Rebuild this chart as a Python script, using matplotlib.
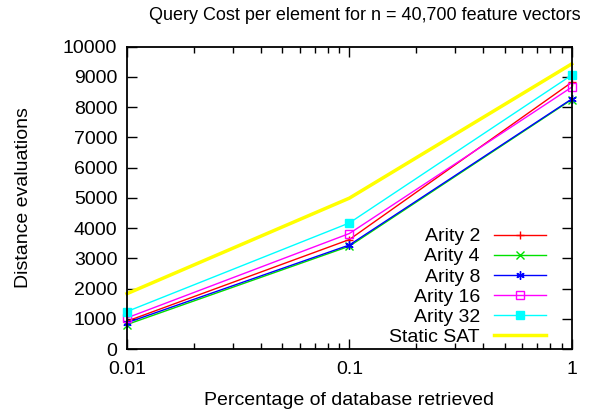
import matplotlib
matplotlib.use("Agg")
import matplotlib.pyplot as plt
from matplotlib.ticker import FixedLocator, LogLocator, NullFormatter

plt.rcParams['font.family'] = ['Liberation Sans', 'DejaVu Sans']

fraction = [0.01, 0.1, 1]
arity2 = [920, 3620, 8820]
arity4 = [810, 3400, 8250]
arity8 = [870, 3440, 8270]
arity16 = [1030, 3820, 8660]
arity32 = [1240, 4170, 9060]
static_sat = [1830, 4990, 9430]

series = [
    ("Arity 2", arity2, "#ff0000", "+", "#ff0000"),
    ("Arity 4", arity4, "#00e000", "x", "#00e000"),
    ("Arity 8", arity8, "#0000ff", (6, 2, 0), "#0000ff"),
    ("Arity 16", arity16, "#ff00ff", "s", "none"),
    ("Arity 32", arity32, "#00ffff", "s", "#00ffff"),
]

fig = plt.figure(figsize=(5.92, 4.16), dpi=100)
ax = fig.add_axes([127 / 592, 1 - 349 / 416, (571.7 - 127) / 592, (349 - 46.7) / 416])

for label, vals, col, mk, fc in series:
    ax.plot(fraction, vals, color=col, lw=1.0, marker=mk, markersize=6,
            markerfacecolor=fc, markeredgecolor=col, markeredgewidth=1.0,
            label=label, clip_on=False, zorder=3)
ax.plot(fraction, static_sat, color="#ffff00", lw=2.5, label="Static SAT",
        clip_on=False, zorder=3)

ax.set_xscale("log")
ax.set_xlim(0.01, 1)
ax.set_ylim(0, 10000)
ax.xaxis.set_major_locator(FixedLocator([0.01, 0.1, 1]))
ax.set_xticklabels(["0.01", "0.1", "1"])
ax.xaxis.set_minor_locator(LogLocator(base=10, subs=range(2, 10)))
ax.xaxis.set_minor_formatter(NullFormatter())
ax.set_yticks(range(0, 10001, 1000))

ax.tick_params(which="both", direction="in", top=True, right=True, labelsize=14, width=1.0)
ax.tick_params(which="major", length=7)
ax.tick_params(which="minor", length=4)
ax.tick_params(axis="y", pad=7)
ax.tick_params(axis="x", pad=9)
for s in ax.spines.values():
    s.set_linewidth(1.3)
    s.set_zorder(4)

ax.set_xlabel("Percentage of database retrieved", fontsize=14)
ax.xaxis.set_label_coords(0.5, -0.142)
ax.set_ylabel("Distance evaluations", fontsize=14)
ax.yaxis.set_label_coords(-0.214, 0.5)
fig.text(365 / 592, 1 - 15 / 416, "Query Cost per element for n = 40,700 feature vectors",
         fontsize=13, ha="center", va="center")

leg = ax.legend(loc="lower right", bbox_to_anchor=((546 - 127) / 444.7, 3 / 302.3),
                frameon=False, markerfirst=False, fontsize=14,
                handlelength=2.7, labelspacing=0.13, borderaxespad=0, borderpad=0,
                handletextpad=0.7)
for t in leg.get_texts():
    t.set_ha("right")

fig.savefig("out.png", dpi=100)
